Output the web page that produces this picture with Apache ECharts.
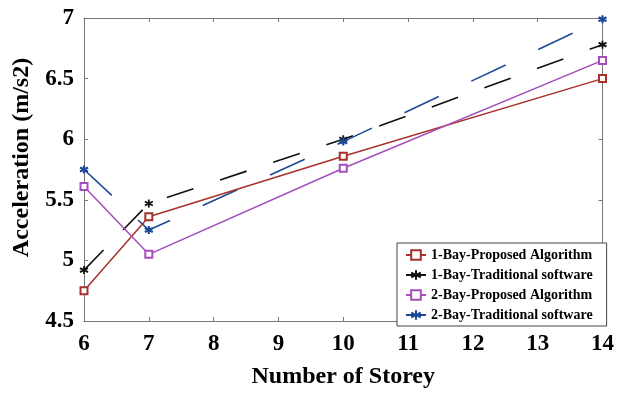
<!DOCTYPE html>
<html>
<head>
<meta charset="utf-8">
<script src="https://cdn.jsdelivr.net/npm/echarts@6/dist/echarts.min.js"></script>
<style>html,body{margin:0;padding:0;background:#fff;}#c{width:617px;height:394px;}</style>
</head>
<body>
<div id="c"></div>
<script>
var storeys = [6, 7, 10, 14];
var bay1Proposed = [4.75, 5.36, 5.86, 6.50];
var bay1Traditional = [4.92, 5.47, 6.00, 6.78];
var bay2Proposed = [5.61, 5.05, 5.76, 6.65];
var bay2Traditional = [5.75, 5.25, 5.98, 6.99];
var seriesNames = ['1-Bay-Proposed Algorithm', '1-Bay-Traditional software', '2-Bay-Proposed Algorithm', '2-Bay-Traditional software'];

function pairs(vals) { return storeys.map(function (s, i) { return [s, vals[i]]; }); }
var FONT = 'Liberation Serif';
var star = 'path://M5,0L5,10M0.7,2.5L9.3,7.5M0.7,7.5L9.3,2.5';

var chart = echarts.init(document.getElementById('c'));
var axisGray = '#777';
chart.setOption({
  animation: false,
  backgroundColor: '#fff',
  grid: { left: 84, right: 9, top: 18, bottom: 68 },
  xAxis: [{
    type: 'value', min: 6, max: 14, interval: 1,
    axisLine: { lineStyle: { color: axisGray, width: 1 } },
    axisTick: { inside: true, length: 4, lineStyle: { color: axisGray } },
    splitLine: { show: false },
    axisLabel: { color: '#000', fontFamily: FONT, fontWeight: 'bold', fontSize: 23, margin: 12 },
    name: 'Number of Storey', nameLocation: 'middle', nameGap: 44,
    nameTextStyle: { color: '#000', fontFamily: FONT, fontWeight: 'bold', fontSize: 24 }
  }, {
    type: 'value', min: 6, max: 14, interval: 1, position: 'top',
    axisLine: { show: true, lineStyle: { color: axisGray, width: 1 } },
    axisTick: { inside: true, length: 4, lineStyle: { color: axisGray } },
    axisLabel: { show: false }, splitLine: { show: false }
  }],
  yAxis: [{
    type: 'value', min: 4.5, max: 7, interval: 0.5,
    axisLine: { show: true, lineStyle: { color: axisGray, width: 1 } },
    axisTick: { show: true, inside: true, length: 4, lineStyle: { color: axisGray } },
    splitLine: { show: false },
    axisLabel: { color: '#000', fontFamily: FONT, fontWeight: 'bold', fontSize: 23, margin: 10 },
    name: 'Acceleration (m/s2)', nameLocation: 'middle', nameGap: 50,
    nameTextStyle: { color: '#000', fontFamily: FONT, fontWeight: 'bold', fontSize: 24, padding: [0, 0, 0, 24] }
  }, {
    type: 'value', min: 4.5, max: 7, interval: 0.5, position: 'right',
    axisLine: { show: true, lineStyle: { color: axisGray, width: 1 } },
    axisTick: { show: true, inside: true, length: 4, lineStyle: { color: axisGray } },
    axisLabel: { show: false }, splitLine: { show: false }
  }],
  legend: {
    orient: 'vertical', left: 397, top: 243,
    padding: [5, 14, 4, 8],
    itemWidth: 20, itemHeight: 12, itemGap: 6,
    borderColor: '#444', borderWidth: 1, backgroundColor: '#fff',
    textStyle: { color: '#000', fontFamily: FONT, fontWeight: 'bold', fontSize: 14 },
    data: seriesNames
  },
  series: [
    { name: seriesNames[0], type: 'line', data: pairs(bay1Proposed), symbol: 'emptyRect', symbolSize: 7,
      lineStyle: { color: '#a6312b', width: 1.5 }, itemStyle: { color: '#a6312b', borderWidth: 1.2 }, z: 3 },
    { name: seriesNames[1], type: 'line', data: pairs(bay1Traditional), symbol: star, symbolSize: 8,
      lineStyle: { color: '#111', width: 1.6, type: [28, 28] },
      itemStyle: { color: '#111', borderColor: '#111', borderWidth: 1.8 }, z: 2 },
    { name: seriesNames[2], type: 'line', data: pairs(bay2Proposed), symbol: 'emptyRect', symbolSize: 7,
      lineStyle: { color: '#a44dbd', width: 1.5 }, itemStyle: { color: '#a44dbd', borderWidth: 1.2 }, z: 3 },
    { name: seriesNames[3], type: 'line', data: pairs(bay2Traditional), symbol: star, symbolSize: 8,
      lineStyle: { color: '#1d4a96', width: 1.6, type: [38, 36] },
      itemStyle: { color: '#1d4a96', borderColor: '#1d4a96', borderWidth: 2.2 }, z: 2 }
  ]
});
</script>
</body>
</html>
